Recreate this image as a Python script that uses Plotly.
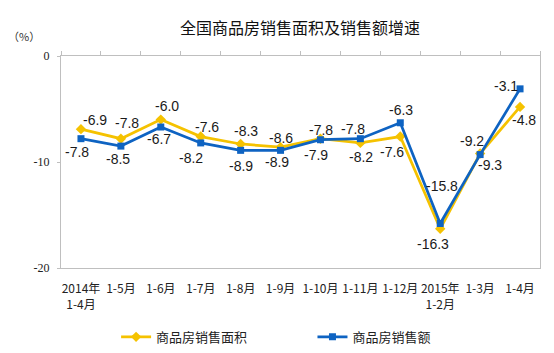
import plotly.graph_objects as go

categories = ["2014年<br>1-4月", "1-5月", "1-6月", "1-7月", "1-8月", "1-9月",
              "1-10月", "1-11月", "1-12月", "2015年<br>1-2月", "1-3月", "1-4月"]
area_growth = [-6.9, -7.8, -6.0, -7.6, -8.3, -8.6, -7.8, -8.2, -7.6, -16.3, -9.2, -4.8]
value_growth = [-7.8, -8.5, -6.7, -8.2, -8.9, -8.9, -7.9, -7.8, -6.3, -15.8, -9.3, -3.1]
area_name = "商品房销售面积"
value_name = "商品房销售额"
title_text = "全国商品房销售面积及销售额增速"
y_ticks = [0, -10, -20]

# label offsets in pixels (dx, dy; dy positive = down)
area_offsets = [(14, -9), (6, -16), (6, -14), (6, -10), (5, -13), (0, -9),
                (1, -9), (1, 14), (-8, 15), (-7, 15), (-8, -13), (4, 13)]
value_offsets = [(-4, 13), (-3, 13), (-2, 12), (-10, 15), (0, 16), (-4, 12),
                 (-4, 15), (-7, -10), (1, -13), (2, -37), (10, 10), (-14, -3)]

YELLOW = "#F5C200"
BLUE = "#0E63C2"
BOX = "#BFBFBF"

x_idx = list(range(len(categories)))

fig = go.Figure()
fig.add_trace(go.Scatter(
    x=x_idx, y=area_growth, name=area_name, mode="lines+markers",
    line=dict(color=YELLOW, width=2.75),
    marker=dict(symbol="diamond", size=8, color=YELLOW),
    legend="legend"))
fig.add_trace(go.Scatter(
    x=x_idx, y=value_growth, name=value_name, mode="lines+markers",
    line=dict(color=BLUE, width=2.75),
    marker=dict(symbol="square", size=7, color=BLUE),
    legend="legend2"))
# helper trace for top tick axis
fig.add_trace(go.Scatter(x=[0], y=[None], xaxis="x2", showlegend=False,
                         hoverinfo="skip"))

annotations = []
lab_font = dict(family="Liberation Sans, Arial", size=14, color="#1a1a1a")
for i, v in enumerate(area_growth):
    dx, dy = area_offsets[i]
    annotations.append(dict(x=x_idx[i], y=v, xref="x", yref="y", text=f"{v:.1f}",
                            showarrow=False, xshift=dx, yshift=-dy, font=lab_font))
for i, v in enumerate(value_growth):
    dx, dy = value_offsets[i]
    annotations.append(dict(x=x_idx[i], y=v, xref="x", yref="y", text=f"{v:.1f}",
                            showarrow=False, xshift=dx, yshift=-dy, font=lab_font))
annotations.append(dict(text="（%）", xref="paper", yref="paper", x=-0.078, y=1.094,
                        xanchor="center", yanchor="middle", showarrow=False,
                        font=dict(family="Noto Sans CJK SC", size=11, color="#333")))

fig.update_layout(
    width=554, height=353,
    margin=dict(l=61, r=14, t=56, b=85, autoexpand=False),
    paper_bgcolor="white", plot_bgcolor="white",
    title=dict(text=title_text, x=0.5415, xref="container", xanchor="center",
               y=1 - 28 / 353, yref="container", yanchor="middle",
               font=dict(family="Noto Sans CJK SC", size=16, color="#111")),
    xaxis=dict(range=[-0.5, 11.5], tickmode="array", tickvals=x_idx,
               ticktext=categories, showgrid=False, zeroline=False,
               showline=True, linecolor=BOX, linewidth=1, mirror=True,
               ticks="", ticklabelstandoff=10, automargin=False,
               tickfont=dict(family="Noto Sans CJK SC", size=12, color="#222")),
    xaxis2=dict(range=[-0.5, 11.5], overlaying="x", side="top", anchor="y",
                tickmode="array", tickvals=[i - 0.5 for i in range(len(categories) + 1)],
                showticklabels=False, ticks="outside", ticklen=4, tickcolor=BOX,
                showgrid=False, zeroline=False, showline=False, automargin=False),
    yaxis=dict(range=[-20, 0], tickmode="array", tickvals=y_ticks,
               ticktext=[str(t) for t in y_ticks],
               showgrid=False, zeroline=False, showline=True, linecolor=BOX,
               linewidth=1, mirror=True, ticks="outside", ticklen=3, tickcolor=BOX,
               ticklabelstandoff=5, automargin=False,
               tickfont=dict(family="Liberation Serif, Times New Roman", size=12, color="#222")),
    legend=dict(orientation="h", x=0.115, y=-0.325, xanchor="left", yanchor="middle",
                font=dict(family="Noto Sans CJK SC", size=13, color="#222"),
                bgcolor="rgba(0,0,0,0)"),
    legend2=dict(orientation="h", x=0.525, y=-0.325, xanchor="left", yanchor="middle",
                 font=dict(family="Noto Sans CJK SC", size=13, color="#222"),
                 bgcolor="rgba(0,0,0,0)"),
    annotations=annotations,
    showlegend=True,
)

fig.write_html("out.html")
